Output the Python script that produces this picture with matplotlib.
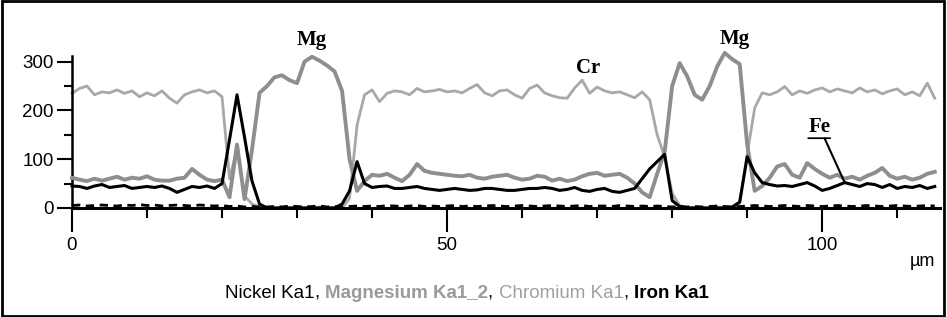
import matplotlib
matplotlib.use('Agg')
import matplotlib.pyplot as plt
from matplotlib.patches import Rectangle
import numpy as np

# Line scan distance (um), one reading per micron
dist = np.arange(0, 116)

chromium = [235, 245, 250, 232, 238, 236, 242, 235, 240, 228, 236, 230, 240, 225, 215, 232, 238, 242, 236, 240, 228,
            60, 120, 25, 8, 2,
            1, 0, 2, 0, 1, 0, 0, 2, 0, 1, 0,
            20, 170, 232, 242, 218, 235, 240, 238, 232, 245, 238, 240, 243, 238, 240, 236, 245, 253, 236, 230, 240,
            242, 232, 225, 245, 252, 236, 230, 226, 225, 246, 262, 235, 248, 240, 236, 238, 232, 226, 238, 222,
            150, 105, 30, 5,
            0, 1, 0, 0, 2, 0, 1,
            10, 110, 205, 236, 232, 238, 249, 232, 240, 235, 242, 246, 238, 244, 240, 236, 246, 238, 242, 234,
            240, 244, 232, 238, 230, 256, 225]

magnesium = [62, 58, 55, 60, 56, 60, 64, 58, 62, 60, 65, 58, 56, 56, 60, 62, 80, 68, 58, 55, 58,
             22, 130, 18, 120, 236,
             250, 268, 272, 262, 256, 300, 310, 302, 292, 280, 240,
             100, 35, 55, 68, 66, 70, 62, 55, 68, 90, 76, 72, 70, 68, 66, 65, 68, 62, 60, 64, 66, 68, 62, 58,
             60, 66, 64, 56, 60, 55, 58, 65, 70, 72, 66, 68, 70, 62, 50, 32, 22, 70, 115, 250, 297,
             270, 232, 222, 250, 290, 318, 305,
             295, 130, 35, 45, 62, 85, 90, 68, 62, 92, 80, 70, 62, 68, 60, 64, 58, 66, 72, 82, 66, 60, 64, 58,
             62, 70, 74]

iron = [45, 44, 40, 45, 48, 42, 44, 46, 40, 42, 44, 42, 45, 40, 32, 38, 44, 42, 45, 40, 50,
        140, 232, 145, 55, 8,
        0, 0, 0, 0, 0, 0, 0, 0, 0, 0, 8,
        35, 95, 50, 42, 44, 45, 40, 40, 42, 44, 40, 38, 36, 38, 40, 38, 36, 37, 40, 40, 38, 36, 36, 38,
        40, 40, 42, 40, 36, 38, 42, 36, 34, 38, 40, 34, 32, 36, 40, 60, 80, 95, 110, 15, 3,
        0, 0, 0, 0, 0, 0, 2,
        12, 105, 72, 52, 48, 45, 46, 44, 48, 52, 45, 36, 40, 46, 52, 48, 44, 50, 48, 42, 48, 40, 44, 42,
        46, 40, 44]

nickel = [5, 6, 4, 5, 6, 5, 4, 6, 5, 7, 5, 6, 4, 5, 6, 5, 4, 6, 5, 4, 5,
          3, 4, 2, 3, 2,
          2, 3, 2, 4, 3, 2, 3, 4, 2, 3, 2,
          3, 4, 3, 4, 3, 5, 4, 3, 4, 5, 3, 4, 3, 4, 5, 3, 4, 3, 4, 5, 4, 3, 4, 5,
          4, 3, 4, 5, 4, 3, 4, 5, 3, 4, 4, 3, 5, 4, 3, 4, 3, 4, 3, 2, 3,
          2, 3, 2, 3, 4, 3, 2,
          3, 4, 5, 4, 3, 4, 5, 4, 3, 5, 4, 3, 4, 5, 4, 3, 4, 5, 4, 3, 4, 5, 4, 3,
          4, 5, 4]

x_major = [0, 50, 100]
x_minor = [10, 20, 30, 40, 60, 70, 80, 90, 110]
y_major = [0, 100, 200, 300]
y_minor = [50, 150, 250]

plt.rcParams['font.family'] = ['Liberation Sans', 'DejaVu Sans']

fig = plt.figure(figsize=(9.47, 3.17), dpi=100)
ax = fig.add_axes([0.076, 0.344, 0.9166, 0.60])

ax.plot(dist, chromium, color='#a8a8a8', lw=2.0, clip_on=False, zorder=2)
ax.plot(dist, magnesium, color='#8e8e8e', lw=2.8, clip_on=False, zorder=3)
ax.plot(dist, nickel, color='black', lw=2.0, ls=(0, (3, 2)), clip_on=False, zorder=4)
ax.plot(dist, iron, color='black', lw=2.2, clip_on=False, zorder=5)

ax.set_xlim(0, 115.7)
ax.set_ylim(0, 390)
for s in ['top', 'right']:
    ax.spines[s].set_visible(False)
ax.spines['left'].set_bounds(0, 312)
ax.spines['left'].set_linewidth(1.8)
ax.spines['bottom'].set_linewidth(2.2)

ax.set_xticks(x_major)
ax.set_xticks(x_minor, minor=True)
ax.set_yticks(y_major)
ax.set_yticks(y_minor, minor=True)
ax.tick_params(axis='x', which='major', length=17, width=1.5, pad=4, labelsize=13.5)
ax.tick_params(axis='x', which='minor', length=7, width=1.5)
ax.tick_params(axis='y', which='major', length=11, width=1.5, pad=2, labelsize=13.5)
ax.tick_params(axis='y', which='minor', length=6, width=1.5)

fig.text(0.987, 0.148, '\u00b5m', ha='right', va='bottom', fontsize=13)

# element labels
lab = dict(fontsize=15, fontweight='bold', family='Liberation Serif', ha='center', va='center')
ax.text(32, 345, 'Mg', **lab)
ax.text(68.8, 287, 'Cr', **lab)
ax.text(88.4, 347, 'Mg', **lab)
fe = ax.text(99.6, 166, 'Fe', **lab)
ax.annotate('', xy=(0, -0.06), xycoords=fe, xytext=(1, -0.06), textcoords=fe,
            arrowprops=dict(arrowstyle='-', color='black', lw=1.3, shrinkA=0, shrinkB=0))
ax.annotate('', xy=(103, iron[103]), xytext=(0.75, -0.08), textcoords=fe,
            arrowprops=dict(arrowstyle='-', color='black', lw=1.5, shrinkA=0, shrinkB=0))

# legend line at the bottom
parts = [('Nickel Ka1', 'black', 'normal'), (', ', 'black', 'normal'),
         ('Magnesium Ka1_2', '#9a9a9a', 'bold'), (', ', 'black', 'normal'),
         ('Chromium Ka1', '#a0a0a0', 'normal'), (', ', 'black', 'normal'),
         ('Iron Ka1', 'black', 'bold')]
base_y = 0.06
t = fig.text(0.238, base_y, parts[0][0], color=parts[0][1], fontweight=parts[0][2],
             fontsize=13.5, va='baseline', ha='left')
for txt, col, w in parts[1:]:
    t = ax.annotate(txt, xy=(1, base_y), xycoords=(t, 'figure fraction'), color=col,
                    fontweight=w, fontsize=13.5, va='baseline', ha='left',
                    annotation_clip=False)

fig.patches.append(Rectangle((0.002, 0.004), 0.995, 0.992, transform=fig.transFigure,
                             fill=False, lw=2, ec='black'))

fig.savefig('out.png', dpi=100)
